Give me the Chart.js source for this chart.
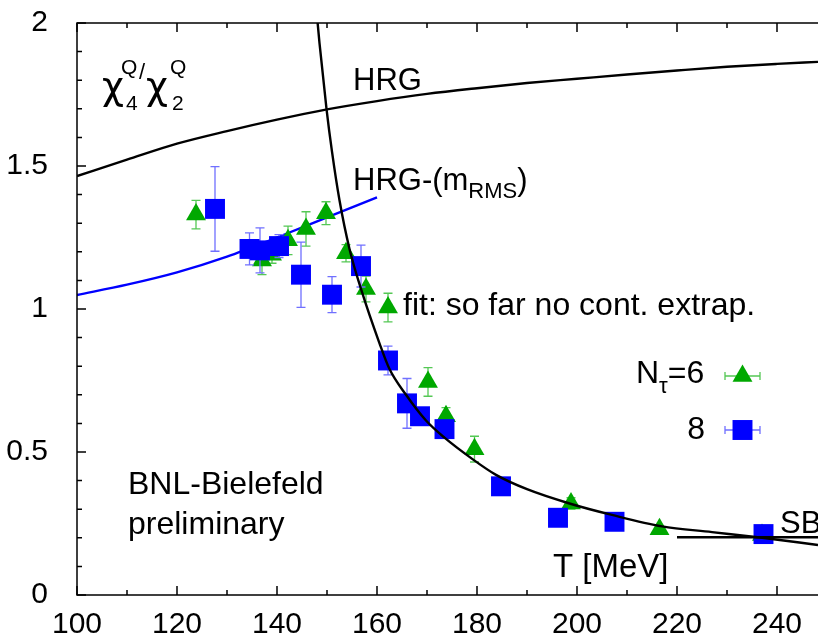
<!DOCTYPE html>
<html>
<head>
<meta charset="utf-8">
<script src="https://cdn.jsdelivr.net/npm/chart.js@4.4.1/dist/chart.umd.min.js"></script>
<style>
  html, body { margin: 0; padding: 0; background: #fff; }
  #wrap { width: 818px; height: 640px; }
</style>
</head>
<body>
<div id="wrap"><canvas id="chart" width="818" height="640"></canvas></div>
<script>
// chi4/chi2 (charge) vs T, lattice points + HRG curves

// N_tau = 6 (green triangles)
const nt6T   = [123.8, 137.0, 139.0, 142.2, 145.8, 149.8, 153.8, 157.8, 162.2, 170.2, 173.8, 179.5, 198.8, 216.5, 237.0];
const nt6Y   = [1.33, 1.17, 1.19, 1.24, 1.28, 1.335, 1.195, 1.07, 1.005, 0.745, 0.625, 0.51, 0.32, 0.23, 0.21];
const nt6Err = [0.05, 0.05, 0.03, 0.05, 0.06, 0.04, 0.03, 0.045, 0.05, 0.05, 0.03, 0.045, 0.02, 0.01, 0.01];

// N_tau = 8 (blue squares)
const nt8T   = [127.6, 134.5, 136.6, 140.4, 144.8, 151.0, 156.8, 162.2, 166.0, 168.6, 173.5, 184.8, 196.2, 207.5, 237.3];
const nt8Y   = [1.35, 1.21, 1.205, 1.22, 1.12, 1.05, 1.15, 0.82, 0.67, 0.625, 0.58, 0.38, 0.27, 0.256, 0.213];
const nt8Err = [0.148, 0.056, 0.079, 0.04, 0.114, 0.063, 0.073, 0.05, 0.087, 0.03, 0.02, 0.01, 0.01, 0.01, 0.01];

// HRG curve
const hrgT = [100, 110, 120, 130, 140, 150, 160, 170, 180, 190, 200, 210, 220, 230, 240, 248.2];
const hrgY = [1.465, 1.522, 1.578, 1.622, 1.662, 1.698, 1.727, 1.752, 1.772, 1.79, 1.805, 1.82, 1.834, 1.847, 1.857, 1.864];

// HRG-(m_RMS) curve
const rmsT = [100, 110, 120, 130, 140, 150, 160];
const rmsY = [1.049, 1.085, 1.128, 1.183, 1.25, 1.32, 1.39];

// fit curve
const fitT = [147.6, 148.5, 149.9, 151.0, 152.5, 154.5, 156.8, 160.5, 162.5, 165.8, 169.8, 173.5, 179.1, 183.8, 190.0, 198.5, 207.0, 217.0, 227.0, 237.0, 248.2];
const fitY = [2.10, 1.93, 1.70, 1.55, 1.38, 1.21, 1.07, 0.88, 0.79, 0.70, 0.61, 0.55, 0.475, 0.42, 0.37, 0.32, 0.28, 0.24, 0.22, 0.20, 0.175];

// Stefan-Boltzmann limit
const sbT = [220, 248.2];
const sbY = [0.202, 0.202];

const xTicks = [100, 120, 140, 160, 180, 200, 220, 240];
const yTicks = [0, 0.5, 1, 1.5, 2];

const FONT = '"Liberation Sans", Arial, Helvetica, sans-serif';
const GREEN = '#00a800';
const BLUE = '#0000ff';
const GREEN_ERR = '#55c855';
const BLUE_ERR = '#7070ff';

const pts = (xs, ys) => xs.map((x, i) => ({ x, y: ys[i] }));

const errorBars = {
    id: 'errorBars',
    beforeDatasetDraw(chart, args) {
        const ds = chart.data.datasets[args.index];
        if (!ds.errors) return;
        const { ctx, scales: { x, y } } = chart;
        ctx.save();
        ctx.strokeStyle = ds.errColor;
        ctx.lineWidth = 1.3;
        ds.data.forEach((p, i) => {
            const e = ds.errors[i];
            const px = x.getPixelForValue(p.x);
            const top = y.getPixelForValue(p.y + e), bot = y.getPixelForValue(p.y - e);
            ctx.beginPath();
            ctx.moveTo(px, top); ctx.lineTo(px, bot);
            ctx.moveTo(px - 4.5, top); ctx.lineTo(px + 4.5, top);
            ctx.moveTo(px - 4.5, bot); ctx.lineTo(px + 4.5, bot);
            ctx.stroke();
        });
        ctx.restore();
    }
};

function txt(ctx, s, x, y, size, align, family) {
    ctx.font = size + 'px ' + (family || FONT);
    ctx.textAlign = align || 'left';
    ctx.fillText(s, x, y);
    return ctx.measureText(s).width;
}

const decorations = {
    id: 'decorations',
    afterDraw(chart) {
        const { ctx, chartArea: a, scales: { x, y } } = chart;
        ctx.save();
        ctx.strokeStyle = '#000';
        ctx.lineWidth = 1.5;
        // frame
        ctx.beginPath();
        ctx.moveTo(a.right + 2, a.top); ctx.lineTo(a.left, a.top);
        ctx.lineTo(a.left, a.bottom); ctx.lineTo(a.right + 2, a.bottom);
        ctx.stroke();
        // inward ticks
        ctx.beginPath();
        for (let t = 100; t <= 248; t += 10) {
            const px = x.getPixelForValue(t);
            const len = t % 20 === 0 ? 9 : 5;
            ctx.moveTo(px, a.bottom); ctx.lineTo(px, a.bottom - len);
            ctx.moveTo(px, a.top); ctx.lineTo(px, a.top + len);
        }
        for (let k = 0; k <= 20; k++) {
            const py = y.getPixelForValue(k / 10);
            const len = k % 5 === 0 ? 9 : 5;
            ctx.moveTo(a.left, py); ctx.lineTo(a.left + len, py);
        }
        ctx.stroke();

        ctx.fillStyle = '#000';
        ctx.textBaseline = 'alphabetic';
        // chi_4^Q / chi_2^Q
        const GR = '"DejaVu Sans", sans-serif';
        txt(ctx, 'χ', 102, 99, 38, 'left', GR);
        txt(ctx, '4', 126, 110, 21);
        txt(ctx, 'Q', 121, 74, 21);
        txt(ctx, '/', 139, 79, 22);
        txt(ctx, 'χ', 146, 99, 38, 'left', GR);
        txt(ctx, '2', 172, 110, 21);
        txt(ctx, 'Q', 170, 74, 21);

        txt(ctx, 'HRG', 353, 90, 31);
        let w = txt(ctx, 'HRG-(m', 353, 190, 31);
        let w2 = txt(ctx, 'RMS', 353 + w, 198, 22);
        txt(ctx, ')', 353 + w + w2, 190, 31);

        txt(ctx, 'fit: so far no cont. extrap.', 403, 315, 32);

        // legend
        let nx = 636;
        nx += txt(ctx, 'N', nx, 383, 32);
        nx += txt(ctx, 'τ', nx, 393, 22);
        txt(ctx, '=6', nx, 383, 32);
        txt(ctx, '8', 705, 439, 32, 'right');

        ctx.lineWidth = 1.3;
        [[376, GREEN_ERR], [430, BLUE_ERR]].forEach(([ly, c]) => {
            ctx.strokeStyle = c;
            ctx.beginPath();
            ctx.moveTo(725, ly); ctx.lineTo(760, ly);
            ctx.moveTo(725, ly - 4); ctx.lineTo(725, ly + 4);
            ctx.moveTo(760, ly - 4); ctx.lineTo(760, ly + 4);
            ctx.stroke();
        });
        ctx.fillStyle = GREEN; ctx.strokeStyle = GREEN;
        Chart.helpers.drawPoint(ctx, { pointStyle: 'triangle', radius: 11.5, borderWidth: 0 }, 742.5, 376);
        ctx.fillStyle = BLUE; ctx.strokeStyle = BLUE;
        Chart.helpers.drawPoint(ctx, { pointStyle: 'rect', radius: 14.1, borderWidth: 0 }, 742.5, 430);

        ctx.fillStyle = '#000';
        txt(ctx, 'BNL-Bielefeld', 128, 494, 32);
        txt(ctx, 'preliminary', 128, 534, 32);
        txt(ctx, 'T [MeV]', 553, 577, 33);
        txt(ctx, 'SB', 780, 533, 31);
        ctx.restore();
    }
};

new Chart(document.getElementById('chart'), {
    type: 'scatter',
    data: {
        datasets: [
            { data: pts(fitT, fitY), showLine: true, borderColor: '#000', borderWidth: 2.4, pointRadius: 0, cubicInterpolationMode: 'monotone', order: 0 },
            { data: pts(sbT, sbY), showLine: true, borderColor: '#000', borderWidth: 2.4, pointRadius: 0, order: 0 },
            { data: pts(nt8T, nt8Y), errors: nt8Err, errColor: BLUE_ERR, pointStyle: 'rect', pointRadius: 14.1, backgroundColor: BLUE, borderColor: BLUE, borderWidth: 0, order: 1 },
            { data: pts(nt6T, nt6Y), errors: nt6Err, errColor: GREEN_ERR, pointStyle: 'triangle', pointRadius: 11.5, backgroundColor: GREEN, borderColor: GREEN, borderWidth: 0, order: 2 },
            { data: pts(rmsT, rmsY), showLine: true, borderColor: BLUE, borderWidth: 2.4, pointRadius: 0, cubicInterpolationMode: 'monotone', order: 3 },
            { data: pts(hrgT, hrgY), showLine: true, borderColor: '#000', borderWidth: 2.4, pointRadius: 0, cubicInterpolationMode: 'monotone', order: 4 }
        ]
    },
    options: {
        responsive: false,
        animation: false,
        layout: { autoPadding: false, padding: { top: 23, right: 0, left: 0, bottom: 0 } },
        plugins: { legend: { display: false }, tooltip: { enabled: false } },
        scales: {
            x: {
                type: 'linear', min: 100, max: 248.2,
                afterFit(s) { s.height = 45; s.paddingLeft = 0; s.paddingRight = 0; },
                afterBuildTicks(s) { s.ticks = xTicks.map(v => ({ value: v })); },
                ticks: { color: '#000', font: { family: FONT, size: 30 }, padding: 4, maxRotation: 0, autoSkip: false },
                grid: { display: false },
                border: { display: false }
            },
            y: {
                min: 0, max: 2,
                afterFit(s) { s.width = 77; s.paddingTop = 0; s.paddingBottom = 0; },
                afterBuildTicks(s) { s.ticks = yTicks.map(v => ({ value: v })); },
                ticks: { color: '#000', font: { family: FONT, size: 30 }, padding: 21, callback: v => String(v) },
                grid: { display: false },
                border: { display: false }
            }
        }
    },
    plugins: [errorBars, decorations]
});
</script>
</body>
</html>
